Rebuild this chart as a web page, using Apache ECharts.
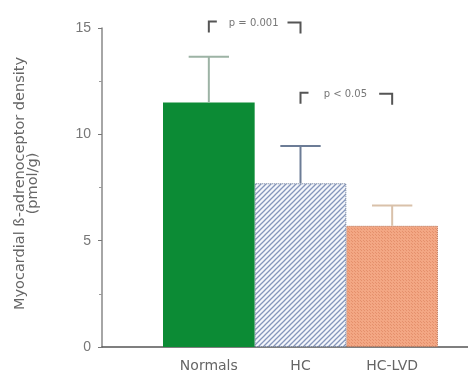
<!DOCTYPE html>
<html>
<head>
<meta charset="utf-8">
<script src="https://cdn.jsdelivr.net/npm/echarts@6/dist/echarts.min.js"></script>
<style>
  html, body { margin: 0; padding: 0; background: #fff; }
  #chart { width: 468px; height: 375px; }
</style>
</head>
<body>
<div id="chart"></div>
<script>
// data
const categories = ['Normals', 'HC', 'HC-LVD'];
const means = [11.5, 7.7, 5.7];
const upperErr = [13.65, 9.45, 6.65];
const yTicks = [0, 5, 10, 15];
const errColors = ['#9db3a5', '#6c7c96', '#d9c1aa'];
// significance brackets: [from index, to index, label, bracket level]
const brackets = [
    [0, 1, 'p = 0.001', 15.3],
    [1, 2, 'p < 0.05', 11.95]
];

const FONT = 'Liberation Sans';

// diagonal hatch for HC
function hatchPattern () {
    const c = document.createElement('canvas');
    c.width = 5; c.height = 5;
    const ctx = c.getContext('2d');
    ctx.fillStyle = '#f4f6fb';
    ctx.fillRect(0, 0, 5, 5);
    ctx.strokeStyle = '#8596bb';
    ctx.lineWidth = 1.3;
    ctx.beginPath();
    ctx.moveTo(-1, 6); ctx.lineTo(6, -1);
    ctx.moveTo(-1, 1); ctx.lineTo(1, -1);
    ctx.moveTo(4, 6); ctx.lineTo(6, 4);
    ctx.stroke();
    return c;
}

// fine cross texture for HC-LVD
function dotPattern () {
    const c = document.createElement('canvas');
    c.width = 3; c.height = 3;
    const ctx = c.getContext('2d');
    ctx.fillStyle = '#f3a784';
    ctx.fillRect(0, 0, 3, 3);
    ctx.fillStyle = '#e5906c';
    ctx.fillRect(0, 0, 1, 1);
    ctx.fillRect(1, 1, 1, 1);
    return c;
}

const barColors = [
    '#0c8b35',
    { image: hatchPattern(), repeat: 'repeat' },
    { image: dotPattern(), repeat: 'repeat' }
];
const barBorders = ['#2fa552', '#6f7f9c', '#b9765a'];

const chart = echarts.init(document.getElementById('chart'));

const option = {
    animation: false,
    backgroundColor: '#fff',
    grid: [
        { left: 102, right: 0, top: 28, bottom: 28 },
        { left: 163, right: 30, top: 28, bottom: 28 }
    ],
    xAxis: [
        {
            gridIndex: 0,
            type: 'value',
            min: 0,
            max: 1,
            axisLine: { show: true, lineStyle: { color: '#555', width: 1.5 } },
            axisTick: { show: false },
            axisLabel: { show: false },
            splitLine: { show: false }
        },
        {
            gridIndex: 1,
            type: 'category',
            data: categories,
            axisLine: { show: false },
            axisTick: { show: false },
            axisLabel: { color: '#666', fontSize: 14, fontFamily: 'DejaVu Sans', margin: 12 }
        }
    ],
    yAxis: [
        {
            gridIndex: 0,
            type: 'value',
            min: 0,
            max: 15,
            interval: 5,
            name: 'Myocardial ß-adrenoceptor density\n(pmol/g)',
            nameLocation: 'middle',
            nameGap: 62,
            nameTextStyle: { color: '#666', fontSize: 14.5, fontFamily: 'DejaVu Sans', lineHeight: 13, padding: [0, 0, 0, 8] },
            axisLine: { show: true, lineStyle: { color: '#888', width: 1.5 } },
            axisTick: { show: true, length: 4, lineStyle: { color: '#777' } },
            minorTick: { show: true, splitNumber: 2, length: 3, lineStyle: { color: '#999' } },
            axisLabel: {
                color: '#777', fontSize: 14, fontFamily: FONT, margin: 11,
                formatter: v => (yTicks.indexOf(v) >= 0 ? String(v) : '')
            },
            splitLine: { show: false }
        },
        {
            gridIndex: 1,
            type: 'value',
            min: 0,
            max: 15,
            show: false
        }
    ],
    series: [
        {
            type: 'bar',
            xAxisIndex: 1,
            yAxisIndex: 1,
            barCategoryGap: 0,
            data: means.map((v, i) => ({
                value: v,
                itemStyle: {
                    color: barColors[i],
                    borderColor: barBorders[i],
                    borderWidth: i === 0 ? 0 : 1,
                    borderType: 'dotted'
                }
            })),
            z: 2
        },
        {
            type: 'custom',
            xAxisIndex: 1,
            yAxisIndex: 1,
            data: categories.map((c, i) => [i, means[i], upperErr[i]]),
            renderItem: function (params, api) {
                const i = api.value(0);
                const base = api.coord([i, api.value(1)]);
                const top = api.coord([i, api.value(2)]);
                const half = api.size([1, 0])[0] * 0.22;
                const style = { stroke: errColors[i], lineWidth: 2 };
                return {
                    type: 'group',
                    children: [
                        { type: 'line', shape: { x1: base[0], y1: base[1], x2: top[0], y2: top[1] }, style: style },
                        { type: 'line', shape: { x1: top[0] - half, y1: top[1], x2: top[0] + half, y2: top[1] }, style: style }
                    ]
                };
            },
            z: 3
        }
    ]
};

chart.setOption(option);

// significance brackets placed through the bar grid's scales
const graphics = [];
brackets.forEach(b => {
    const p0 = chart.convertToPixel({ xAxisIndex: 1, yAxisIndex: 1 }, [b[0], b[3]]);
    const p1 = chart.convertToPixel({ xAxisIndex: 1, yAxisIndex: 1 }, [b[1], b[3]]);
    const drop = 11;
    const lineStyle = { stroke: '#555', lineWidth: 2, fill: null };
    graphics.push({
        type: 'polyline',
        shape: { points: [[p0[0], p0[1] + drop], [p0[0], p0[1]], [p0[0] + 8, p0[1]]] },
        style: lineStyle
    });
    graphics.push({
        type: 'polyline',
        shape: { points: [[p1[0] - 13, p0[1] + 1], [p1[0], p0[1] + 1], [p1[0], p0[1] + drop + 1]] },
        style: lineStyle
    });
    graphics.push({
        type: 'text',
        x: (p0[0] + p1[0]) / 2 - 1,
        y: p0[1] + 2,
        style: {
            text: b[2],
            fill: '#777',
            font: '10px "DejaVu Sans"',
            align: 'center',
            verticalAlign: 'middle'
        }
    });
});
chart.setOption({ graphic: graphics });
</script>
</body>
</html>
